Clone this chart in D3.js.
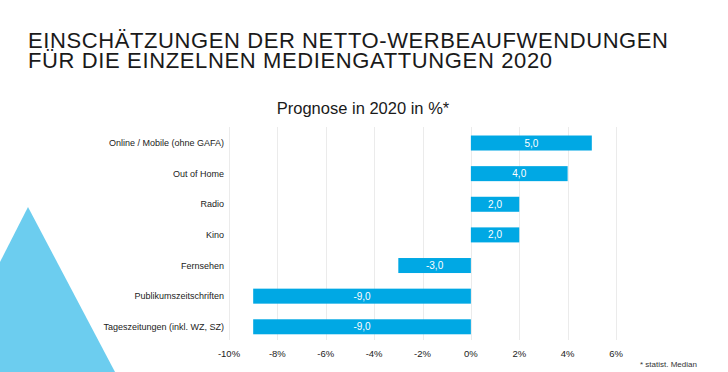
<!DOCTYPE html>
<html>
<head>
    <meta charset="utf-8">
    <title>Netto-Werbeaufwendungen 2020</title>
    <script src="https://d3js.org/d3.v7.min.js"></script>
    <style>
        body { margin: 0; background: #fff; }
        text { font-family: "Liberation Sans", Arial, sans-serif; }
        .title { font-size: 22px; fill: #1a1a1a; }
        .subtitle { font-size: 16.5px; fill: #1a1a1a; }
        .cat-label { font-size: 9px; fill: #222; }
        .tick-label { font-size: 9.5px; fill: #222; }
        .bar-label { font-size: 10px; fill: #fff; }
        .grid { stroke: #ebebeb; stroke-width: 1; }
        .note { font-size: 8px; fill: #333; }
    </style>
</head>
<body>
    <div id="chart"></div>
    <script>
        // Kategorien und Werte (Prognose 2020 in %)
        const categories = [
            "Online / Mobile (ohne GAFA)",
            "Out of Home",
            "Radio",
            "Kino",
            "Fernsehen",
            "Publikumszeitschriften",
            "Tageszeitungen (inkl. WZ, SZ)"
        ];
        const values = [5.0, 4.0, 2.0, 2.0, -3.0, -9.0, -9.0];
        const tickValues = [-10, -8, -6, -4, -2, 0, 2, 4, 6];

        const titleLines = [
            "EINSCHÄTZUNGEN DER NETTO-WERBEAUFWENDUNGEN",
            "FÜR DIE EINZELNEN MEDIENGATTUNGEN 2020"
        ];
        const subtitle = "Prognose in 2020 in %*";
        const footnote = "* statist. Median";

        const width = 728, height = 372;
        const barColor = "#00a8e4";
        const triColor = "#6ccdef";

        const svg = d3.select("#chart").append("svg")
            .attr("width", width)
            .attr("height", height);

        // Dekoratives Dreieck unten links
        svg.append("path")
            .attr("d", "M28,207 L115,372 L0,372 L0,262 Z")
            .attr("fill", triColor);

        // Titel: ein Textelement, zwei Zeilen eng gesetzt wie im Original
        const title = svg.append("text").attr("class", "title");
        title.append("tspan")
            .attr("x", 28).attr("y", 48)
            .attr("textLength", 640).attr("lengthAdjust", "spacing")
            .text(titleLines[0]);
        title.append("tspan")
            .attr("x", 28).attr("y", 68)
            .attr("textLength", 524).attr("lengthAdjust", "spacing")
            .text(titleLines[1]);

        svg.append("text").attr("class", "subtitle")
            .attr("x", 363).attr("y", 113.5)
            .attr("text-anchor", "middle")
            .text(subtitle);

        // Skalen
        const x = d3.scaleLinear().domain([-10, 6]).range([229, 616]);
        const y = d3.scaleBand().domain(categories).range([127.7, 342.1])
            .paddingInner(0.51).paddingOuter(0.255);

        // Gitterlinien
        svg.selectAll(".grid").data(tickValues).enter()
            .append("line")
            .attr("class", "grid")
            .attr("x1", d => Math.round(x(d)) + 0.5)
            .attr("x2", d => Math.round(x(d)) + 0.5)
            .attr("y1", 127)
            .attr("y2", 340);

        // Achsenbeschriftung
        svg.selectAll(".tick-label").data(tickValues).enter()
            .append("text")
            .attr("class", "tick-label")
            .attr("x", d => x(d))
            .attr("y", 357)
            .attr("text-anchor", "middle")
            .text(d => d + "%");

        // Balken
        const rows = categories.map((c, i) => ({ cat: c, val: values[i] }));
        svg.selectAll(".bar").data(rows).enter()
            .append("rect")
            .attr("class", "bar")
            .attr("x", d => x(Math.min(0, d.val)))
            .attr("y", d => y(d.cat))
            .attr("width", d => Math.abs(x(d.val) - x(0)))
            .attr("height", y.bandwidth())
            .attr("fill", barColor);

        // Werte in den Balken
        svg.selectAll(".bar-label").data(rows).enter()
            .append("text")
            .attr("class", "bar-label")
            .attr("x", d => (x(d.val) + x(0)) / 2)
            .attr("y", d => y(d.cat) + y.bandwidth() / 2)
            .attr("dy", "0.35em")
            .attr("text-anchor", "middle")
            .text(d => d3.format(".1f")(d.val).replace(".", ",").replace("−", "-"));

        // Kategorien
        svg.selectAll(".cat-label").data(categories).enter()
            .append("text")
            .attr("class", "cat-label")
            .attr("x", 224)
            .attr("y", d => y(d) + y.bandwidth() / 2)
            .attr("dy", "0.35em")
            .attr("text-anchor", "end")
            .text(d => d);

        svg.append("text").attr("class", "note")
            .attr("x", 640).attr("y", 367)
            .text(footnote);
    </script>
</body>
</html>
